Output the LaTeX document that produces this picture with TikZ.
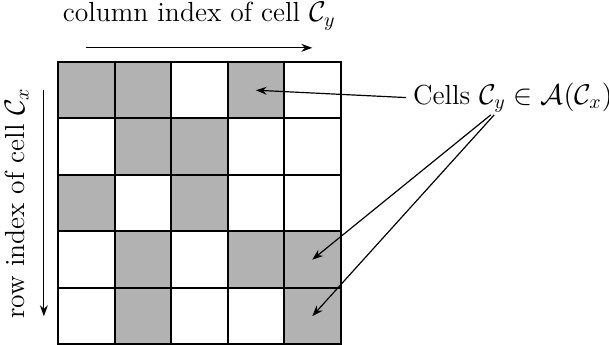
\documentclass[tikz,border=0pt]{standalone}
\usetikzlibrary{arrows.meta, positioning, calc}
\tikzset{
  cell/.style = {draw, line width=1pt, minimum size=1cm, inner sep=0pt},
  arr/.style  = {-{Stealth[length=5.5pt, width=4pt]}, semithick},
  lbl/.style  = {font=\fontsize{13.9pt}{16pt}\selectfont}
}

\begin{document}
\begin{tikzpicture}
  \useasboundingbox (-1.027,-5.009) rectangle (9.752,1.097);

  % ── Grid of cells (1 = in the set) ────────────────────────────────────────
  \foreach \pat [count=\r] in {{1,1,0,1,0},{0,1,1,0,0},{1,0,1,0,0},{0,1,0,1,1},{0,1,0,0,1}}{
    \foreach \v [count=\c] in \pat{
      \ifnum\v=1 \def\shade{black!30}\else\def\shade{white}\fi
      \node[cell, fill=\shade] (c-\r-\c) at (\c-0.5, 0.5-\r) {};
    }
  }

  % ── Axis labels ───────────────────────────────────────────────────────────
  \node[lbl] (colLbl) at (2.5,0.81) {column index of cell $\mathcal{C}_y$};
  \node[lbl, rotate=90] (rowLbl) at (-0.73,-2.5) {row index of cell $\mathcal{C}_x$};
  \coordinate (colS) at (0.5,0.25);
  \coordinate (colE) at (4.5,0.25);
  \coordinate (rowS) at (-0.25,-0.5);
  \coordinate (rowE) at (-0.25,-4.5);
  \draw[arr] (colS) -- (colE);
  \draw[arr] (rowS) -- (rowE);

  % ── Set label and pointers ────────────────────────────────────────────────
  \node[lbl, anchor=west] (cells) at (6.16,-0.63)
        {Cells $\mathcal{C}_y \in \mathcal{A}(\mathcal{C}_x)$};
  \coordinate (Cy) at ($(cells.south west)+(1.5,0.08)$);
  \draw[arr] (cells.west) -- (c-1-4.center);
  \draw[arr] (Cy) -- (c-4-5.center);
  \draw[arr] ($(Cy)+(0.06,0)$) -- (c-5-5.center);

\end{tikzpicture}
\end{document}
